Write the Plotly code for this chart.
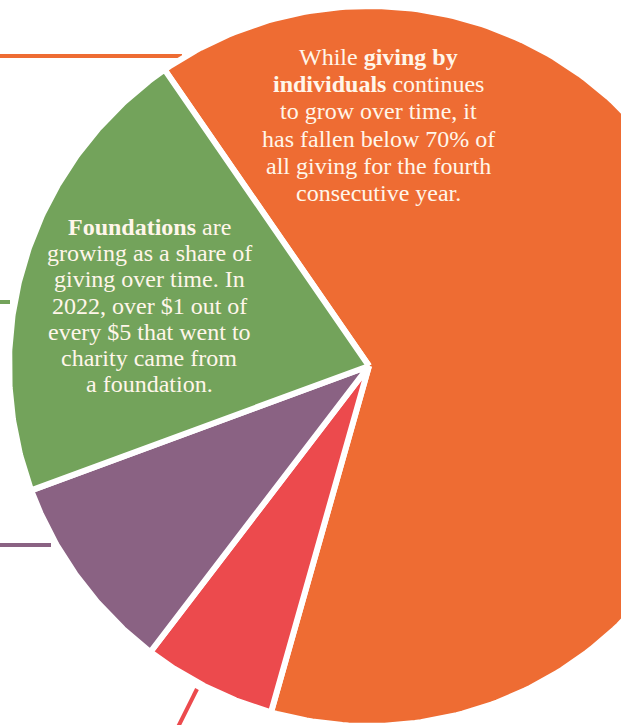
import numpy as np
import plotly.graph_objects as go

# Share of 2022 giving by source (percent), in clockwise order
sources = ["Individuals", "Corporations", "Bequests", "Foundations"]
shares = [64, 6, 9, 21]
colors = ["#EE6C33", "#EC4A4D", "#8A6283", "#73A35B"]

# Callout text, one entry per printed line
individuals_lines = [
    "While <b>giving by</b>",
    "<b>individuals</b> continues",
    "to grow over time, it",
    "has fallen below 70% of",
    "all giving for the fourth",
    "consecutive year.",
]
foundations_lines = [
    "<b>Foundations</b> are",
    "growing as a share of",
    "giving over time. In",
    "2022, over $1 out of",
    "every $5 that went to",
    "charity came from",
    "a foundation.",
]

W, H = 621, 725
CX, CY = 369, 366          # pie centre in plot units
R = 360                    # outer radius
START_DEG = -34.6          # first slice starts this far from 12 o'clock (clockwise +)

fig = go.Figure()

total = float(sum(shares))
angle = START_DEG
for name, val, col in zip(sources, shares, colors):
    span = 360.0 * val / total
    t = np.radians(np.linspace(angle, angle + span, 240))
    xs = np.concatenate([[CX], CX + R * np.sin(t), [CX]])
    ys = np.concatenate([[CY], CY - R * np.cos(t), [CY]])
    fig.add_trace(go.Scatter(
        x=xs, y=ys, mode="lines", fill="toself", fillcolor=col,
        line=dict(color="white", width=6), name=name,
        hoverinfo="skip", showlegend=False,
    ))
    angle += span

# leader lines running off to the left-hand labels
leaders = [
    dict(x0=0, y0=56, x1=182, y1=56, color="#EE6C33"),
    dict(x0=0, y0=302, x1=10, y1=302, color="#73A35B"),
    dict(x0=0, y0=545, x1=51, y1=545, color="#8A6283"),
    dict(x0=197, y0=689, x1=178, y1=727, color="#EC4A4D"),
]
for ln in leaders:
    fig.add_shape(type="line", x0=ln["x0"], y0=ln["y0"], x1=ln["x1"], y1=ln["y1"],
                  xref="x", yref="y", line=dict(color=ln["color"], width=4), layer="below")

SERIF = "Liberation Serif, Times New Roman, serif"
TEXT_COLOR = "#FFF6EA"


def add_block(lines, x, y0, pitch, size):
    for i, line in enumerate(lines):
        fig.add_annotation(x=x, y=y0 + i * pitch, xref="x", yref="y", text=line,
                           showarrow=False, align="center", xanchor="center",
                           yanchor="middle",
                           font=dict(family=SERIF, color=TEXT_COLOR, size=size))


add_block(individuals_lines, 378, 57, 27.2, 24)
add_block(foundations_lines, 149, 227, 26.2, 24)

fig.update_layout(
    width=W, height=H, margin=dict(l=0, r=0, t=0, b=0),
    paper_bgcolor="white", plot_bgcolor="white",
    xaxis=dict(range=[0, W], visible=False, fixedrange=True),
    yaxis=dict(range=[H, 0], visible=False, fixedrange=True),
    hovermode=False,
)

fig.write_html("out.html", config={"displayModeBar": False})
